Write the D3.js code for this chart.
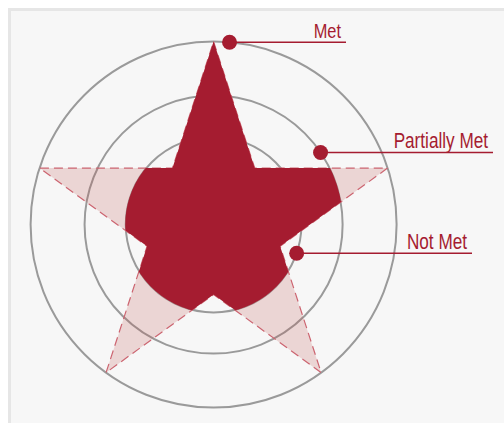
<!DOCTYPE html>
<html>
<head>
<meta charset="utf-8">
<script src="https://cdn.jsdelivr.net/npm/d3@7"></script>
<style>
  html, body { margin: 0; padding: 0; background: #fff; }
  svg { display: block; }
</style>
</head>
<body>
<svg id="chart" width="504" height="423"></svg>
<script>
// rings, from the centre outwards
const statusLevels = ["Not Met", "Partially Met", "Met"];
const levelValues = [0.48, 0.705, 1];

// the five arms of the star, clockwise from the top
const arms = ["Goal 1", "Goal 2", "Goal 3", "Goal 4", "Goal 5"];
const armStatus = ["Met", "Partially Met", "Not Met", "Not Met", "Not Met"];

const width = 504, height = 423;
const cx = 213.6, cy = 224.6, R = 183;
const crimson = "#a51c30";

const svg = d3.select("#chart");

svg.append("rect")
  .attr("x", 9.5).attr("y", 9.5)
  .attr("width", 600).attr("height", 500)
  .attr("fill", "#f7f7f7")
  .attr("stroke", "#e6e6e6")
  .attr("stroke-width", 3);

const r = d3.scaleLinear().domain([0, 1]).range([0, R]);
const level = d3.scaleOrdinal().domain(statusLevels).range(levelValues);
const angle = d3.scaleBand().domain(arms).range([0, 2 * Math.PI]);
const half = angle.bandwidth() / 2;

const g = svg.append("g").attr("transform", `translate(${cx},${cy})`);

// rings
g.selectAll("circle.ring")
  .data(statusLevels)
  .enter()
  .append("circle")
  .attr("class", "ring")
  .attr("r", d => r(level(d)))
  .attr("fill", "none")
  .attr("stroke", "#9a9a9a")
  .attr("stroke-width", 2);

// star outline (all arms at full length)
const inner = 0.382;
const starPts = [];
arms.forEach(a => {
  starPts.push([angle(a), r(1)]);
  starPts.push([angle(a) + half, r(inner)]);
});
const star = d3.lineRadial()
  .angle(d => d[0])
  .radius(d => d[1])
  .curve(d3.curveLinearClosed);

g.append("path")
  .attr("d", star(starPts))
  .attr("fill", "#c0504d")
  .attr("fill-opacity", 0.2)
  .attr("stroke", "#cc6470")
  .attr("stroke-width", 1.2)
  .attr("stroke-dasharray", "9,5");

// each arm cut back to the ring of its status (sectors overlap a little
// near the inner vertices so no seams show)
const sector = d3.arc()
  .innerRadius(0)
  .outerRadius(d => r(level(d.status)) + 0.5)
  .startAngle(d => angle(d.arm) - half - 0.06)
  .endAngle(d => angle(d.arm) + half + 0.06);

const clipD = arms.map((a, i) => sector({ arm: a, status: armStatus[i] })).join(" ");
svg.append("defs").append("clipPath").attr("id", "armClip")
  .append("path")
  .attr("clip-rule", "nonzero")
  .attr("d", clipD);

g.append("path")
  .attr("d", star(starPts))
  .attr("fill", crimson)
  .attr("clip-path", "url(#armClip)");

// labels with leader lines
const labelAngle = { "Met": 5, "Partially Met": 56, "Not Met": 109 };
const labelEnd = { "Met": 346, "Partially Met": 493, "Not Met": 472 };
const labelSize = { "Met": 21, "Partially Met": 22, "Not Met": 22 };

svg.selectAll("g.label")
  .data(statusLevels)
  .enter()
  .append("g")
  .attr("class", "label")
  .each(function (d) {
    const a = labelAngle[d] * Math.PI / 180;
    const x = cx + r(level(d)) * Math.sin(a);
    const y = cy - r(level(d)) * Math.cos(a);
    const el = d3.select(this);
    el.append("line")
      .attr("x1", x).attr("y1", y)
      .attr("x2", labelEnd[d]).attr("y2", y)
      .attr("stroke", crimson)
      .attr("stroke-width", 1.5);
    el.append("circle")
      .attr("cx", x).attr("cy", y)
      .attr("r", 7.5)
      .attr("fill", crimson);
    // condensed look: squeeze the text horizontally
    el.append("text")
      .attr("transform", `translate(${labelEnd[d] - 5},${y - 4}) scale(0.78,1)`)
      .attr("text-anchor", "end")
      .attr("font-family", "'Liberation Sans', Arial, sans-serif")
      .attr("font-size", labelSize[d])
      .attr("fill", crimson)
      .text(d);
  });
</script>
</body>
</html>
